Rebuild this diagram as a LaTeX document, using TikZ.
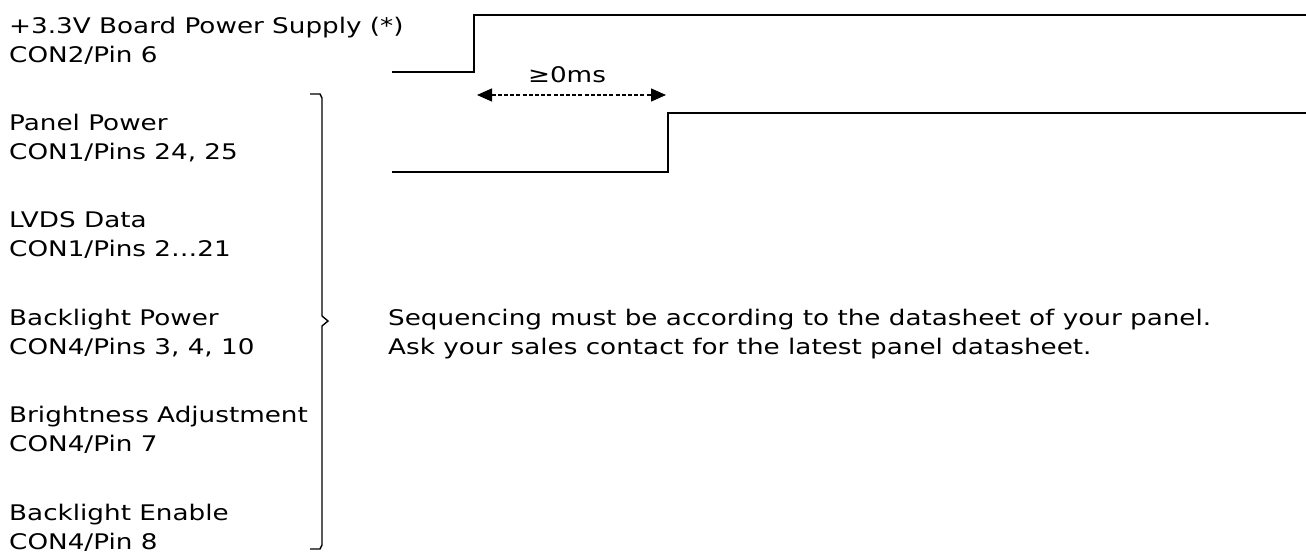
\documentclass[tikz,border=0pt]{standalone}
\usepackage{fontspec}
\setmainfont{DejaVu Sans}[FakeStretch=1.22]
\usetikzlibrary{arrows.meta}
\begin{document}
\begin{tikzpicture}[x=1pt,y=-1pt,
  lbl/.style={anchor=base west, inner sep=0pt, font=\fontsize{21.5}{29}\selectfont, align=left},
  sig/.style={line width=2pt, line join=miter},
  gap/.style={line width=1.3pt, dash pattern=on 4pt off 2.2pt, {Triangle[length=15pt,width=13pt]}-{Triangle[length=15pt,width=13pt]}},
  brace/.style={line width=1.4pt}]
\useasboundingbox (0,0) rectangle (1306,554);
% left labels (anchor = baseline of the second line)
\node[lbl] (l1) at (9,62) {+3.3V Board Power Supply (*)\\CON2/Pin 6};
\node[lbl] (l2) at (9,159.4) {Panel Power\\CON1/Pins 24, 25};
\node[lbl] (l3) at (9,256.8) {LVDS Data\\CON1/Pins 2…21};
\node[lbl] (l4) at (9,354.2) {Backlight Power\\CON4/Pins 3, 4, 10};
\node[lbl] (l5) at (9,451.6) {Brightness Adjustment\\CON4/Pin 7};
\node[lbl] (l6) at (9,549) {Backlight Enable\\CON4/Pin 8};
% signal 1
\coordinate (s1a) at (392,72);
\coordinate (s1b) at (474,72);
\coordinate (s1c) at (474,15);
\coordinate (s1d) at (1306,15);
\draw[sig] (s1a) -- (s1b) -- (s1c) -- (s1d);
% signal 2
\coordinate (s2a) at (392,172);
\coordinate (s2b) at (668,172);
\coordinate (s2c) at (668,113);
\coordinate (s2d) at (1306,113);
\draw[sig] (s2a) -- (s2b) -- (s2c) -- (s2d);
% timing gap
\coordinate (g1) at (477,95);
\coordinate (g2) at (666,95);
\draw[gap] (g1) -- (g2);
\node[anchor=base, inner sep=0pt, font=\fontsize{21.5}{29}\selectfont] (gl) at (567,82) {≥0ms};
% brace
\coordinate (b1) at (310,94);
\coordinate (b2) at (322,98);
\coordinate (b3) at (322,316);
\coordinate (bt) at (328,321);
\coordinate (b4) at (322,326);
\coordinate (b5) at (322,545);
\coordinate (b6) at (310,549);
\draw[brace] (b1) -- (320,94) -- (b2) -- (b3) -- (bt) -- (b4) -- (b5) -- (320,549) -- (b6);
% note
\node[lbl] (note) at (388,354.2) {Sequencing must be according to the datasheet of your panel.\\Ask your sales contact for the latest panel datasheet.};
\end{tikzpicture}
\end{document}
